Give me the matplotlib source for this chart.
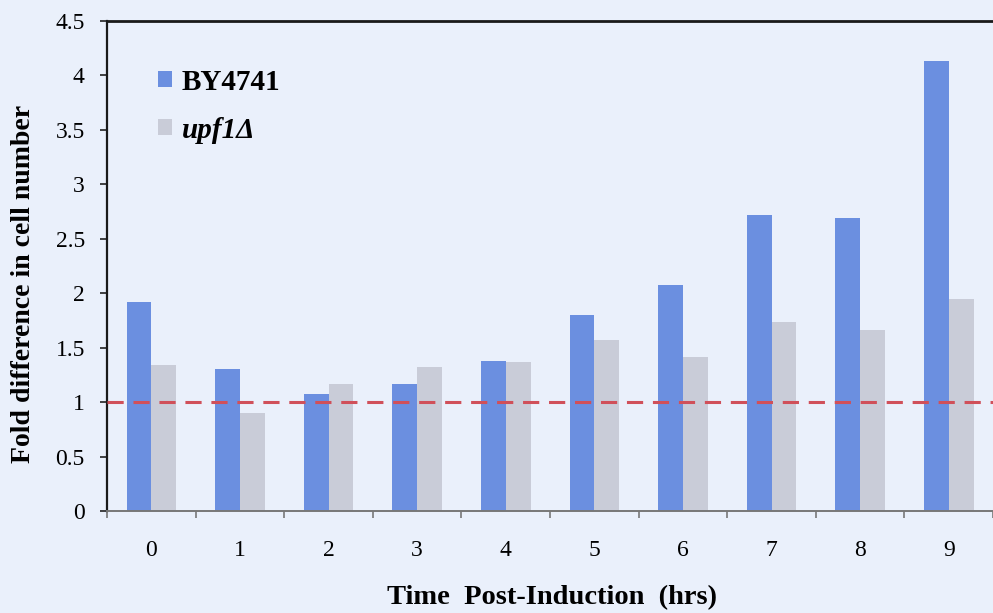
import matplotlib
matplotlib.use("Agg")
import matplotlib.pyplot as plt
from matplotlib.patches import Patch
import numpy as np

# Data
hours = ["0", "1", "2", "3", "4", "5", "6", "7", "8", "9"]
by4741 = [1.92, 1.30, 1.07, 1.17, 1.38, 1.80, 2.08, 2.72, 2.69, 4.13]
upf1 = [1.34, 0.90, 1.17, 1.32, 1.37, 1.57, 1.41, 1.74, 1.66, 1.95]
y_ticks = [0, 0.5, 1, 1.5, 2, 2.5, 3, 3.5, 4, 4.5]
y_tick_labels = ["0", "0.5", "1", "1.5", "2", "2.5", "3", "3.5", "4", "4.5"]
baseline = 1.0

bg = "#eaf0fb"
blue = "#6b8fe0"
grey = "#c9ccd8"
serif = ["Liberation Serif", "DejaVu Serif"]

fig = plt.figure(figsize=(9.93, 6.13), dpi=100, facecolor=bg)
ax = fig.add_axes([0.1078, 0.1664, 0.8922, 0.7993], facecolor=bg)

x = np.arange(len(hours))
w = 0.28
ax.bar(x - w / 2, by4741, width=w, color=blue, linewidth=0)
ax.bar(x + w / 2, upf1, width=w, color=grey, linewidth=0)
ax.axhline(baseline, color="#d0505a", linewidth=2.2, dashes=(5.3, 3.2), zorder=3)

ax.set_xlim(-0.5, 9.45)
ax.set_ylim(0, 4.5)

# Tick marks at category boundaries, labels at category centres
ax.set_xticks(np.arange(-0.5, 10, 1.0))
ax.set_xticklabels([])
ax.set_xticks(x, minor=True)
ax.set_xticklabels(hours, minor=True, fontfamily=serif, fontsize=17)
ax.tick_params(axis="x", which="major", direction="out", length=5, width=1.2, color="#777777")
ax.tick_params(axis="x", which="minor", length=0, pad=21)

ax.set_yticks(y_ticks)
ax.set_yticklabels(y_tick_labels, fontfamily=serif, fontsize=17)
ax.tick_params(axis="y", direction="out", length=5, width=1.2, color="#222222", pad=11)

ax.spines["right"].set_visible(False)
ax.spines["top"].set_linewidth(2.0)
ax.spines["top"].set_color("#1a1a1a")
ax.spines["left"].set_linewidth(1.6)
ax.spines["left"].set_color("#1a1a1a")
ax.spines["bottom"].set_linewidth(1.4)
ax.spines["bottom"].set_color("#777777")

fig.text(0.556, 0.004, "Time  Post-Induction  (hrs)", ha="center", va="bottom",
         fontfamily=serif, fontweight="bold", fontsize=20.5)
fig.text(0.024, 0.537, "Fold difference in cell number", ha="center", va="center",
         rotation=90, fontfamily=serif, fontweight="bold", fontsize=20)

handles = [Patch(facecolor=blue, edgecolor="none"), Patch(facecolor=grey, edgecolor="none")]
leg = ax.legend(handles, ["BY4741", "upf1Δ"], loc="upper left",
                bbox_to_anchor=(0.058, 0.903), frameon=False, borderpad=0, borderaxespad=0,
                handlelength=0.48, handleheight=0.48, handletextpad=0.33,
                labelspacing=0.72, prop={"family": serif, "size": 21, "weight": "bold"})
leg.get_texts()[1].set_fontstyle("italic")

fig.savefig("out.png", dpi=100, facecolor=bg)
